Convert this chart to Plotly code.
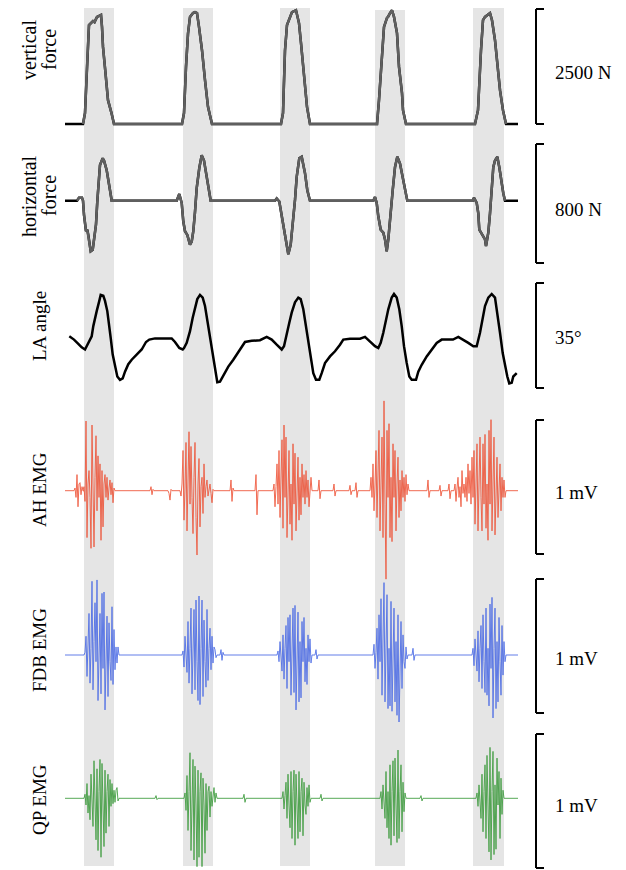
import plotly.graph_objects as go

# ---------------- data (time in s, forces in N, angle in deg, EMG in mV) -------------
stance_start = [0.19, 1.18, 2.15, 3.10, 4.08]
stance_end = [0.49, 1.48, 2.45, 3.40, 4.39]

vf_t = [0.00, 0.18, 0.20, 0.22, 0.24, 0.28, 0.295, 0.32, 0.36, 0.37, 0.38, 0.405, 0.43, 0.465, 0.49,
        1.17, 1.19, 1.21, 1.23, 1.25, 1.28, 1.30, 1.32, 1.34, 1.37, 1.40, 1.43, 1.47,
        2.16, 2.18, 2.20, 2.22, 2.24, 2.25, 2.27, 2.31, 2.32, 2.34, 2.36, 2.38, 2.40, 2.42, 2.45,
        3.12, 3.14, 3.17, 3.19, 3.22, 3.23, 3.25, 3.27, 3.29, 3.32, 3.34, 3.37, 3.38, 3.41,
        4.10, 4.13, 4.16, 4.18, 4.20, 4.22, 4.25, 4.27, 4.30, 4.32, 4.35, 4.38, 4.41, 4.53]
vf_n = [0, 0, 230, 1200, 2080, 2160, 2140, 2250, 2290, 2040, 1620, 1070, 500, 230, 0,
        0, 230, 1200, 1900, 2250, 2330, 2350, 2330, 2040, 1550, 920, 360, 0,
        0, 230, 1550, 2080, 2180, 2250, 2350, 2390, 2290, 2120, 1700, 1200, 860, 360, 0,
        0, 500, 1550, 2040, 2230, 2250, 2330, 2390, 2250, 1910, 1200, 650, 290, 0,
        0, 290, 1550, 2180, 2250, 2290, 2330, 2180, 1760, 1340, 710, 290, 0, 0]

hf_t = [0.00, 0.12, 0.14, 0.17, 0.18, 0.19, 0.21, 0.223, 0.233, 0.25, 0.257, 0.277, 0.29, 0.31, 0.323,
        0.333, 0.35, 0.377, 0.39, 0.417, 0.433, 0.45, 0.467,
        1.117, 1.143, 1.167, 1.183, 1.20, 1.223, 1.25, 1.267, 1.283, 1.30, 1.317, 1.343, 1.367, 1.39,
        1.41, 1.433, 1.457,
        2.10, 2.117, 2.143, 2.157, 2.183, 2.20, 2.217, 2.233, 2.257, 2.277, 2.30, 2.317, 2.343, 2.367,
        2.383, 2.40, 2.423, 2.45,
        3.083, 3.10, 3.117, 3.133, 3.157, 3.183, 3.20, 3.217, 3.233, 3.257, 3.277, 3.30, 3.323, 3.35,
        3.377, 3.40, 3.423,
        4.077, 4.09, 4.117, 4.133, 4.143, 4.17, 4.20, 4.21, 4.233, 4.25, 4.267, 4.283, 4.30, 4.323,
        4.343, 4.367, 4.383, 4.40, 4.53]
hf_n = [0, 0, 20, 20, 0, -95, -205, -195, -230, -295, -340, -330, -275, -160, -5,
        85, 240, 285, 270, 205, 150, 70, 0,
        0, 45, -15, -140, -205, -230, -295, -275, -205, -75, 85, 220, 305, 270,
        195, 105, 0,
        0, 15, -5, -60, -175, -215, -285, -360, -295, -175, 5, 160, 285, 295,
        250, 185, 70, 0,
        0, 25, -15, -105, -195, -215, -260, -340, -260, -105, 70, 225, 295, 250,
        160, 70, 0,
        0, 20, -15, -85, -195, -230, -260, -305, -215, -85, 70, 225, 270, 295,
        225, 115, 50, 0, 0]

la_t = [0.043, 0.09, 0.133, 0.167, 0.20, 0.217, 0.243, 0.267, 0.283, 0.30, 0.317, 0.343, 0.357, 0.383,
        0.40, 0.423, 0.443, 0.457, 0.477, 0.50, 0.523, 0.55, 0.577, 0.60, 0.633, 0.667, 0.717, 0.767,
        0.81, 0.843, 0.90, 1.067, 1.10, 1.143, 1.177, 1.19, 1.217, 1.25, 1.277, 1.30, 1.323, 1.35,
        1.377, 1.40, 1.423, 1.45, 1.477, 1.50, 1.523, 1.55, 1.583, 1.633, 1.683, 1.75, 1.80, 1.867,
        1.95, 2.017, 2.067, 2.117, 2.167, 2.19, 2.217, 2.243, 2.267, 2.30, 2.333, 2.357, 2.383, 2.41,
        2.433, 2.457, 2.483, 2.51, 2.543, 2.567, 2.60, 2.65, 2.70, 2.75, 2.783, 2.85, 2.95, 3.00,
        3.05, 3.10, 3.133, 3.157, 3.183, 3.21, 3.233, 3.267, 3.29, 3.317, 3.343, 3.367, 3.39, 3.417,
        3.443, 3.467, 3.51, 3.533, 3.567, 3.617, 3.667, 3.717, 3.767, 3.88, 3.933, 3.983, 4.033,
        4.083, 4.117, 4.15, 4.177, 4.20, 4.233, 4.267, 4.30, 4.323, 4.35, 4.377, 4.40, 4.423, 4.443,
        4.467, 4.483, 4.517]
la_deg = [116.9, 115.8, 114.4, 113.2, 112.5, 113.6, 115.2, 116.9, 120.3, 123.1, 125.3, 128.7, 130.7, 130.4,
          128.7, 125.3, 120.9, 116.4, 110.8, 107.4, 103.5, 102.4, 102.9, 105.1, 107.6, 109.1, 110.8, 112.5,
          115.0, 115.8, 116.2, 116.2, 115.0, 113.0, 112.5, 113.0, 114.7, 118.6, 123.1, 125.9, 129.3, 130.7,
          129.8, 127.0, 122.0, 116.4, 110.8, 105.1, 101.6, 101.8, 104.0, 106.8, 109.1, 112.5, 115.0, 115.4,
          115.6, 116.7, 115.8, 114.1, 112.5, 113.6, 118.1, 121.4, 124.8, 128.2, 129.8, 129.3, 125.9, 120.3,
          114.7, 109.1, 104.6, 102.4, 102.4, 104.6, 108.0, 110.2, 111.9, 114.1, 115.8, 116.1, 116.1, 116.7,
          115.2, 113.6, 113.0, 114.7, 118.1, 122.5, 125.9, 129.8, 131.0, 129.8, 125.9, 120.3, 113.6, 108.0,
          103.5, 102.4, 102.4, 105.1, 107.4, 110.2, 112.5, 114.7, 115.8, 115.8, 116.7, 115.8, 114.7,
          113.6, 113.6, 118.1, 122.5, 127.0, 129.8, 131.0, 129.8, 124.8, 118.1, 111.3, 106.8, 103.5, 101.2,
          101.4, 103.5, 104.6]

EMG_DT = 0.01  # sampling interval of the digitised EMG segments (s)
emg_start_t = 0.0
emg_end_t = 4.53

# AH EMG: segment onset times and sampled values (mV)
ah_onset = [0.10, 0.19, 0.85, 1.03, 1.16, 1.65, 1.90, 2.09, 2.53, 2.68, 2.85, 2.91, 3.06, 3.63, 3.75, 3.84, 3.90]
ah_values = [
    [0.02, -0.05, 0.12, -0.12, 0.05, 0.06, -0.03, 0.03, 0.0],
    [0.03, -0.08, 0.52, -0.35, 0.05, 0.15, -0.05, -0.43, 0.49, -0.1, -0.42, 0.1, 0.41, -0.15, 0.26, -0.05,
     0.2, -0.37, 0.15, -0.27, 0.05, 0.12, -0.05, 0.1, -0.07, 0.02, 0.08, -0.03, 0.06, -0.09, 0.02],
    [0.0, 0.03, -0.03, 0.01, 0.0],
    [0.0, -0.02, -0.07, 0.01, 0.0],
    [-0.04, 0.05, 0.3, -0.22, 0.02, 0.36, -0.3, 0.05, 0.44, -0.1, 0.33, -0.05, -0.32, 0.1, 0.36, -0.2,
     -0.48, 0.05, 0.24, -0.27, 0.03, 0.1, -0.17, 0.2, -0.05, 0.03, 0.08, -0.04, 0.02, 0.05, -0.02, -0.09, 0.01],
    [0.0, 0.08, -0.08, 0.02, 0.0],
    [0.0, 0.12, -0.18, 0.0],
    [0.05, -0.12, 0.03, 0.2, -0.1, 0.3, -0.2, 0.05, 0.38, -0.28, 0.49, -0.05, 0.4, -0.35, 0.1, 0.3,
     -0.25, 0.05, -0.37, 0.35, -0.1, 0.28, -0.3, 0.05, 0.25, -0.22, 0.1, -0.18, 0.2, -0.05, 0.12, -0.1,
     0.15, -0.05, 0.08, -0.12, 0.03, 0.1, 0.0],
    [0.0, 0.08, -0.06, 0.0],
    [0.0, 0.05, -0.04],
    [0.04, -0.03, 0.0],
    [0.06, -0.05, 0.0],
    [0.1, -0.05, 0.2, -0.15, 0.05, 0.3, -0.2, 0.1, 0.45, -0.3, 0.05, 0.4, -0.35, 0.67, -0.1, -0.66,
     0.45, -0.05, 0.5, -0.35, 0.1, -0.38, 0.35, -0.05, 0.3, -0.3, 0.05, 0.25, -0.2, 0.08, -0.15, 0.15,
     -0.05, 0.1, -0.08, 0.12, -0.03, 0.05, 0.0],
    [0.08, -0.05, 0.0],
    [0.04, -0.04, 0.0],
    [0.05, -0.06, 0.0],
    [0.05, -0.08, 0.02, 0.1, -0.05, 0.03, -0.12, 0.15, -0.02, 0.05, -0.05, 0.1, -0.08, 0.2, -0.02, 0.15,
     -0.1, 0.25, -0.05, 0.3, -0.25, 0.05, 0.35, -0.3, 0.1, 0.4, -0.05, -0.3, 0.35, -0.1, 0.42, -0.28,
     0.05, -0.37, 0.45, -0.1, 0.53, -0.3, 0.05, 0.4, -0.33, 0.1, 0.25, -0.2, 0.05, 0.2, -0.15, 0.1,
     -0.05, 0.08, -0.05, 0.0],
]

fdb_onset = [0.19, 1.17, 1.55, 2.13, 2.50, 3.08, 3.47, 4.07]
fdb_values = [
    [0.0, 0.02, 0.14, -0.16, 0.05, 0.31, -0.21, 0.05, 0.55, -0.26, 0.1, 0.39, -0.05, 0.56, -0.34, 0.05,
     0.31, -0.29, 0.46, -0.1, 0.47, -0.41, 0.05, 0.29, -0.31, 0.24, -0.05, -0.19, 0.36, -0.22, 0.19,
     -0.11, 0.06, -0.06, 0.06, 0.0],
    [0.0, 0.03, -0.09, 0.14, -0.02, -0.13, 0.25, -0.21, 0.05, 0.35, -0.29, 0.05, 0.34, -0.26, 0.41, -0.05,
     -0.34, 0.44, -0.37, 0.05, 0.41, -0.31, 0.26, -0.05, -0.24, 0.34, -0.19, 0.05, 0.2, -0.11, 0.14,
     -0.06, 0.06, 0.04, -0.02, 0.0],
    [0.0, 0.04, -0.04, 0.02, 0.0],
    [0.03, -0.05, 0.1, -0.02, -0.12, 0.15, -0.18, 0.05, 0.22, -0.25, 0.28, -0.05, 0.3, -0.3, 0.05, 0.35,
     -0.28, 0.37, -0.41, 0.05, 0.32, -0.35, 0.1, -0.32, 0.25, -0.05, 0.28, -0.2, 0.05, -0.22, 0.15,
     -0.05, 0.12, -0.06, 0.0],
    [0.0, 0.04, -0.03, 0.0],
    [0.0, 0.08, -0.1, 0.02, 0.2, -0.18, 0.3, -0.05, 0.42, -0.3, 0.05, 0.54, -0.35, 0.1, 0.45, -0.4,
     0.05, -0.38, 0.4, -0.42, 0.05, 0.35, -0.35, 0.1, -0.45, 0.3, -0.52, 0.05, 0.25, -0.25, 0.15,
     -0.05, -0.1, 0.06, -0.03, 0.0],
    [0.0, 0.05, -0.04, 0.0],
    [0.0, 0.05, -0.08, 0.12, -0.02, -0.12, 0.18, -0.2, 0.05, 0.22, -0.25, 0.3, -0.05, -0.28, 0.35, -0.3,
     0.05, -0.38, 0.38, -0.1, 0.43, -0.47, 0.05, 0.35, -0.4, 0.1, -0.35, 0.28, -0.05, -0.3, 0.22,
     -0.15, 0.1, -0.05, 0.0],
]

qp_onset = [0.19, 0.90, 1.19, 1.78, 2.17, 2.55, 3.15, 3.55, 4.11]
qp_values = [
    [0.0, 0.03, -0.05, 0.11, -0.11, 0.02, -0.16, 0.18, -0.05, -0.21, 0.28, -0.05, -0.31, 0.22, -0.39, 0.05,
     0.29, -0.44, 0.26, -0.05, -0.36, 0.21, -0.26, 0.05, 0.18, -0.21, 0.14, -0.06, 0.11, -0.04, 0.06,
     -0.03, 0.06, 0.08, -0.02, 0.0],
    [0.0, 0.02, -0.01, 0.0],
    [0.0, 0.04, -0.09, 0.17, -0.24, 0.05, 0.34, -0.39, 0.05, 0.29, -0.46, 0.24, -0.05, -0.51, 0.21, -0.44,
     0.05, 0.19, -0.51, 0.15, -0.05, -0.41, 0.11, -0.24, 0.05, 0.09, -0.14, 0.05, -0.06, 0.02, 0.08,
     -0.03, 0.04, 0.0],
    [0.0, 0.03, -0.03, 0.0],
    [0.0, 0.05, -0.08, 0.02, 0.12, -0.15, 0.18, -0.05, -0.22, 0.2, -0.3, 0.05, 0.21, -0.35, 0.18, -0.05,
     -0.3, 0.2, -0.25, 0.05, 0.15, -0.28, 0.12, -0.05, -0.12, 0.08, -0.06, 0.1, -0.03, 0.0],
    [0.0, 0.03, -0.02, 0.0],
    [0.0, 0.05, -0.08, 0.1, -0.02, -0.15, 0.2, -0.22, 0.05, -0.3, 0.25, -0.35, 0.05, 0.28, -0.28, 0.3,
     -0.05, -0.33, 0.36, -0.3, 0.05, 0.25, -0.25, 0.12, -0.1, 0.04, 0.0],
    [0.0, 0.02, -0.02, 0.0],
    [0.0, 0.04, -0.06, 0.1, -0.02, -0.15, 0.18, -0.25, 0.05, 0.25, -0.3, 0.32, -0.05, -0.4, 0.38, -0.46,
     0.05, 0.35, -0.42, 0.1, -0.38, 0.3, -0.05, 0.2, -0.3, 0.15, -0.12, 0.06, 0.0],
]

row_labels = [["vertical", "force"], ["horizontal", "force"], ["LA angle"], ["AH EMG"], ["FDB EMG"], ["QP EMG"]]
scale_values = [2500, 800, 35, 1, 1, 1]
scale_labels = ["2500 N", "800 N", "35°", "1 mV", "1 mV", "1 mV"]

# ---------------- layout geometry (page pixels of the 626x870 window) ----------------
PAGE_W, PAGE_H = 626, 870
OFF = 8                                   # default body margin of the html page
W, H = PAGE_W - OFF, PAGE_H - OFF         # figure size so that it ends at the window edge
X0_PX, PX_PER_S = 65.0, 100.0             # time axis: t=0 at page x=65 px, 100 px per second
# per panel: (domain top, domain bottom, bar top, bar bottom, px of reference value, reference value)
panels = [
    (8, 140, 5, 124, 124.0, 0.0),
    (138, 272, 144, 263, 200.7, 0.0),
    (270, 400, 283, 388, 387.0, 100.0),
    (398, 584, 420, 554, 490.7, 0.0),
    (572, 722, 579, 713, 655.0, 0.0),
    (718, 870, 734, 868, 798.3, 0.0),
]
scale_label_py = [72, 210, 337, 492, 658, 805]
band_tops_px = [8, 8, 8, 10, 8]
band_bottom_px = 866
BAR_X_PX, TICK_X_PX, LABEL_X_PX = 536, 544, 553

def px_to_t(px):
    return (px - X0_PX) / PX_PER_S

def py_to_paper(py):
    return 1 - (py - OFF) / H

def px_to_paper(px):
    return (px - OFF) / W

FONT = "Liberation Serif, Times New Roman, serif"

fig = go.Figure()
layout = dict(
    width=W, height=H, margin=dict(l=0, r=0, t=0, b=0),
    paper_bgcolor="white", plot_bgcolor="rgba(0,0,0,0)", showlegend=False,
    xaxis=dict(domain=[0, 1], range=[px_to_t(OFF), px_to_t(PAGE_W)], visible=False, fixedrange=True),
)
shapes, annotations = [], []

value_of = []
for i, (dt, db, bt, bb, ref_px, ref_v) in enumerate(panels):
    upp = scale_values[i] / (bb - bt)
    f = (lambda ref_px, ref_v, upp: (lambda py: ref_v + (ref_px - py) * upp))(ref_px, ref_v, upp)
    value_of.append(f)
    dt = max(dt, OFF)
    name = "yaxis" if i == 0 else f"yaxis{i + 1}"
    layout[name] = dict(domain=[py_to_paper(db), py_to_paper(dt)], range=[f(db), f(dt)], visible=False,
                        anchor="x", fixedrange=True)

# stance bands
for s, e, top in zip(stance_start, stance_end, band_tops_px):
    shapes.append(dict(type="rect", xref="x", yref="paper", x0=s, x1=e,
                       y0=py_to_paper(band_bottom_px), y1=py_to_paper(top),
                       fillcolor="#e5e5e5", line=dict(width=0), layer="below"))

def yref(i):
    return "y" if i == 0 else f"y{i + 1}"

# scale bars and labels
for i, (dt, db, bt, bb, ref_px, ref_v) in enumerate(panels):
    f = value_of[i]
    vb, vt = f(min(bb, PAGE_H - 1)), f(max(bt, OFF + 1))
    xb, xk = px_to_t(BAR_X_PX), px_to_t(TICK_X_PX)
    for (x0, y0, x1, y1) in [(xb, vb, xb, vt), (xb, vt, xk, vt), (xb, vb, xk, vb)]:
        shapes.append(dict(type="line", xref="x", yref=yref(i), x0=x0, y0=y0, x1=x1, y1=y1,
                           line=dict(color="black", width=2)))
    annotations.append(dict(x=px_to_t(LABEL_X_PX), y=f(scale_label_py[i]), xref="x", yref=yref(i),
                            text=scale_labels[i], showarrow=False, xanchor="left", yanchor="middle",
                            font=dict(family=FONT, size=19, color="black")))

# left labels
label_centers_py = [50, 196, 326, 490, 650, 800]
for lines, cy in zip(row_labels, label_centers_py):
    xs = [29, 49] if len(lines) == 2 else [39]
    size = 20 if len(lines) == 2 else 19
    for txt, cx in zip(lines, xs):
        annotations.append(dict(x=px_to_paper(cx), y=py_to_paper(cy), xref="paper", yref="paper", text=txt,
                                showarrow=False, textangle=-90, xanchor="center", yanchor="middle",
                                font=dict(family=FONT, size=size, color="black")))

# force traces: black baseline, grey stance portion
def stance_part(v):
    out = []
    for k in range(len(v)):
        near = v[k] != 0 or (k > 0 and v[k - 1] != 0) or (k + 1 < len(v) and v[k + 1] != 0)
        out.append(v[k] if near else None)
    return out

for i, (t, v) in enumerate([(vf_t, vf_n), (hf_t, hf_n)]):
    fig.add_trace(go.Scatter(x=t, y=v, mode="lines", line=dict(color="black", width=2.5),
                             xaxis="x", yaxis=yref(i), hoverinfo="skip"))
    fig.add_trace(go.Scatter(x=t, y=stance_part(v), mode="lines", connectgaps=False,
                             line=dict(color="#5f5f5f", width=2.5), xaxis="x", yaxis=yref(i),
                             hoverinfo="skip"))

fig.add_trace(go.Scatter(x=la_t, y=la_deg, mode="lines", line=dict(color="black", width=2.5),
                         xaxis="x", yaxis="y3", hoverinfo="skip"))

def emg_series(onsets, values):
    # each digitised segment sits on the 0 mV baseline between recorded samples
    t, v = [emg_start_t], [0.0]
    for on, vals in sorted(zip(onsets, values), key=lambda p: p[0]):
        t.append(on - EMG_DT)
        v.append(0.0)
        for k, val in enumerate(vals):
            t.append(on + k * EMG_DT)
            v.append(val)
        t.append(on + len(vals) * EMG_DT)
        v.append(0.0)
    t.append(emg_end_t)
    v.append(0.0)
    return t, v

emg_colors = ["rgb(238,70,40)", "rgb(60,95,228)", "rgb(45,148,45)"]
for j, (on, vals) in enumerate([(ah_onset, ah_values), (fdb_onset, fdb_values), (qp_onset, qp_values)]):
    t, v = emg_series(on, vals)
    fig.add_trace(go.Scatter(x=t, y=v, mode="lines", line=dict(color=emg_colors[j], width=1),
                             opacity=0.8, xaxis="x", yaxis=yref(3 + j), hoverinfo="skip"))

layout["shapes"] = shapes
layout["annotations"] = annotations
fig.update_layout(**layout)
fig.write_html("out.html")
